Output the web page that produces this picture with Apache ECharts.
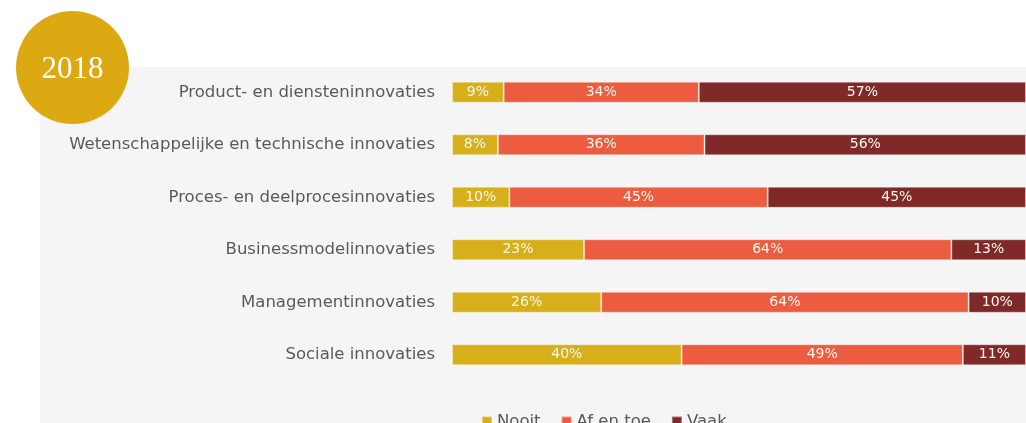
<!DOCTYPE html>
<html>
<head>
<meta charset="utf-8">
<script src="https://cdn.jsdelivr.net/npm/echarts@6/dist/echarts.min.js"></script>
<style>
  html, body { margin: 0; padding: 0; background: #fff; }
  #chart { width: 1026px; height: 423px; }
</style>
</head>
<body>
<div id="chart"></div>
<script>
// categorieen (van boven naar beneden)
const categories = [
  'Product- en diensteninnovaties',
  'Wetenschappelijke en technische innovaties',
  'Proces- en deelprocesinnovaties',
  'Businessmodelinnovaties',
  'Managementinnovaties',
  'Sociale innovaties'
];
const nooit = [9, 8, 10, 23, 26, 40];
const afEnToe = [34, 36, 45, 64, 64, 49];
const vaak = [57, 56, 45, 13, 10, 11];
const yearLabel = '2018';

const chart = echarts.init(document.getElementById('chart'));

// y-as van boven naar beneden, dus omdraaien
const cats = categories.slice().reverse();
const rev = arr => arr.slice().reverse();

const labelFont = "'DejaVu Sans', sans-serif";

function barSeries(name, data, color) {
  return {
    name: name,
    type: 'bar',
    stack: 'totaal',
    barWidth: 21,
    data: rev(data),
    itemStyle: { color: color, borderColor: 'rgba(255,255,255,0.35)', borderWidth: 1 },
    label: {
      show: true,
      position: 'inside',
      formatter: '{c}%',
      color: '#fdf8ee',
      fontSize: 14,
      fontFamily: labelFont
    }
  };
}

const option = {
  backgroundColor: '#fff',
  animation: false,
  graphic: [
    {
      type: 'rect',
      z: -10,
      shape: { x: 40, y: 67, width: 990, height: 360 },
      style: { fill: '#f5f5f5' }
    },
    {
      type: 'circle',
      z: 100,
      shape: { cx: 72.5, cy: 67.5, r: 56.5 },
      style: { fill: '#dca913' }
    },
    {
      type: 'text',
      z: 101,
      x: 72.5,
      y: 70,
      style: {
        text: yearLabel,
        fill: '#fff',
        font: "31px 'Liberation Serif', 'DejaVu Serif', serif",
        align: 'center',
        verticalAlign: 'middle'
      }
    }
  ],
  legend: {
    left: 476,
    top: 408,
    itemWidth: 10,
    itemHeight: 10,
    itemGap: 20,
    icon: 'rect',
    textStyle: { color: '#595959', fontSize: 16.5, fontFamily: labelFont },
    data: ['Nooit', 'Af en toe', 'Vaak']
  },
  grid: {
    left: 452,
    right: -3,
    top: 66,
    height: 315,
    containLabel: false
  },
  xAxis: {
    type: 'value',
    min: 0,
    max: 100,
    show: false
  },
  yAxis: {
    type: 'category',
    data: cats,
    axisLine: { show: false },
    axisTick: { show: false },
    axisLabel: {
      color: '#595959',
      fontSize: 16.5,
      fontFamily: labelFont,
      margin: 17
    }
  },
  series: [
    barSeries('Nooit', nooit, '#d7af1a'),
    barSeries('Af en toe', afEnToe, '#eb5c40'),
    barSeries('Vaak', vaak, '#7f2a29')
  ]
};

chart.setOption(option);
</script>
</body>
</html>
